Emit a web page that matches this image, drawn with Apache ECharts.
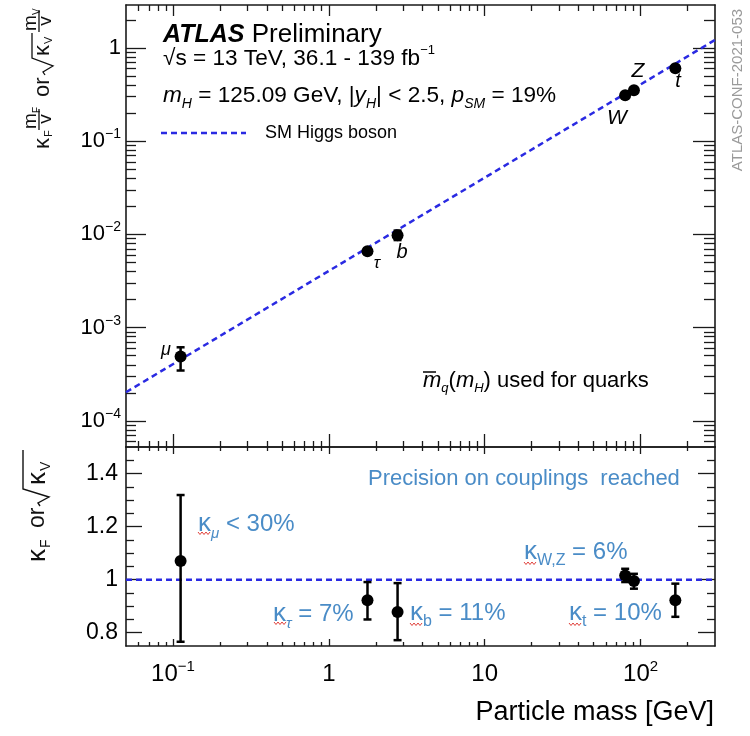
<!DOCTYPE html>
<html>
<head>
<meta charset="utf-8">
<title>ATLAS Higgs couplings vs particle mass</title>
<script src="https://cdn.jsdelivr.net/npm/echarts@6/dist/echarts.min.js"></script>
<style>
  html, body { margin: 0; padding: 0; background: #fff; }
  #chart { width: 750px; height: 736px; }
</style>
</head>
<body>
<div id="chart"></div>
<script>
// ---- data ----
const particles   = ['μ', 'τ', 'b', 'W', 'Z', 't'];
const massGeV     = [0.112, 1.77, 2.76, 79.6, 90.6, 167];
// upper panel: kappa_F m_F / v  or  sqrt(kappa_V) m_V / v
const reduced     = [4.9e-4, 6.6e-3, 9.8e-3, 0.312, 0.353, 0.605];
const reducedLow  = [3.47e-4, 6.2e-3, 8.7e-3, 0.305, 0.345, 0.575];
const reducedHigh = [6.16e-4, 7.1e-3, 1.1e-2, 0.32, 0.362, 0.64];
// lower panel: kappa_F or sqrt(kappa_V)
const kappa       = [1.07, 0.922, 0.878, 1.016, 0.995, 0.922];
const kappaLow    = [0.766, 0.85, 0.772, 0.991, 0.966, 0.86];
const kappaHigh   = [1.319, 0.991, 0.987, 1.041, 1.022, 0.985];
// SM Higgs boson expectation (end points of the dashed lines)
const smMass      = [0.05, 300];
const smReduced   = [2.03e-4, 1.22];
const smKappa     = [1, 1];
// axis ticks
const xMajor      = [0.1, 1, 10, 100];
const xMajorText  = ['{b|10}{s|−1}', '{b|1}', '{b|10}', '{b|10}{s|2}'];
const yTopMajor   = [1e-4, 1e-3, 1e-2, 1e-1, 1];
const yTopText    = ['{b|10}{s|−4}', '{b|10}{s|−3}', '{b|10}{s|−2}', '{b|10}{s|−1}', '{b|1}'];
const yBotMajor   = [0.8, 1, 1.2, 1.4];
const yBotText    = ['0.8', '1', '1.2', '1.4'];
const yBotMinor   = [0.85, 0.9, 0.95, 1.05, 1.1, 1.15, 1.25, 1.3, 1.35, 1.45];

const FONT = '"Liberation Sans", Arial, Helvetica, sans-serif';
const SM_BLUE = '#2a2ae2';
const NOTE_BLUE = '#4a8cc7';
const lg = v => Math.log10(v);

const X_MIN = lg(0.05), X_MAX = lg(300);
const YT_MIN = -4.28, YT_MAX = 0.461;
const YB_MIN = 0.75, YB_MAX = 1.5;

// minor log ticks 2..9 x 10^k inside a range
function logMinors(lo, hi) {
  const out = [];
  for (let k = -6; k <= 3; k++) {
    for (let m = 2; m <= 9; m++) {
      const v = m * Math.pow(10, k);
      if (v > lo && v < hi) out.push(lg(v));
    }
  }
  return out;
}
const xMinorLog = logMinors(0.05, 300);
const yTopMinorLog = logMinors(Math.pow(10, YT_MIN), Math.pow(10, YT_MAX));

function pick(values, texts) {
  return function (v) {
    let best = 0;
    values.forEach((c, i) => { if (Math.abs(c - v) < Math.abs(values[best] - v)) best = i; });
    return texts[best];
  };
}

const richLabel = (size) => ({
  b: { fontSize: size, lineHeight: size + 6, fontFamily: FONT, color: '#000' },
  s: { fontSize: Math.round(size * 0.62), lineHeight: Math.round(size * 0.62), fontFamily: FONT, color: '#000', verticalAlign: 'top' }
});

function axis(gridIndex, position, min, max, ticks, tickLen, showLine, label) {
  return {
    type: 'value', gridIndex: gridIndex, position: position, min: min, max: max,
    axisLine: { show: showLine, onZero: false, lineStyle: { color: '#1a1a1a', width: 1.6 } },
    axisTick: { show: true, inside: true, length: tickLen, customValues: ticks,
                lineStyle: { color: '#1a1a1a', width: 1.3 } },
    axisLabel: label || { show: false },
    splitLine: { show: false },
    axisPointer: { show: false }
  };
}

const xMajorLog = xMajor.map(lg);
const yTopMajorLog = yTopMajor.map(lg);

const xLabel = {
  show: true, customValues: xMajorLog, margin: 13,
  formatter: pick(xMajorLog, xMajorText), rich: richLabel(24)
};
const yTopLabel = {
  show: true, customValues: yTopMajorLog, margin: 5,
  formatter: pick(yTopMajorLog, yTopText), rich: richLabel(22)
};
const yBotLabel = {
  show: true, customValues: yBotMajor, margin: 8,
  formatter: pick(yBotMajor, yBotText), fontSize: 23, fontFamily: FONT, color: '#000'
};

const xAxes = [
  axis(0, 'bottom', X_MIN, X_MAX, xMajorLog, 13, true),
  axis(0, 'bottom', X_MIN, X_MAX, xMinorLog, 6, false),
  axis(0, 'top', X_MIN, X_MAX, xMajorLog, 11, true),
  axis(0, 'top', X_MIN, X_MAX, xMinorLog, 6, false),
  axis(1, 'bottom', X_MIN, X_MAX, xMajorLog, 7, true, xLabel),
  axis(1, 'bottom', X_MIN, X_MAX, xMinorLog, 4, false),
  axis(1, 'top', X_MIN, X_MAX, xMajorLog, 7, true),
  axis(1, 'top', X_MIN, X_MAX, xMinorLog, 4, false)
];
const yAxes = [
  axis(0, 'left', YT_MIN, YT_MAX, yTopMajorLog, 20, true, yTopLabel),
  axis(0, 'left', YT_MIN, YT_MAX, yTopMinorLog, 10, false),
  axis(0, 'right', YT_MIN, YT_MAX, yTopMajorLog, 22, true),
  axis(0, 'right', YT_MIN, YT_MAX, yTopMinorLog, 11, false),
  axis(1, 'left', YB_MIN, YB_MAX, yBotMajor, 16, true, yBotLabel),
  axis(1, 'left', YB_MIN, YB_MAX, yBotMinor, 8, false),
  axis(1, 'right', YB_MIN, YB_MAX, yBotMajor, 17, true),
  axis(1, 'right', YB_MIN, YB_MAX, yBotMinor, 8, false)
];

function errorBar(params, api) {
  const lo = api.coord([api.value(0), api.value(1)]);
  const hi = api.coord([api.value(0), api.value(2)]);
  const cap = 4;
  const style = { stroke: '#000', lineWidth: 2.5 };
  return {
    type: 'group',
    children: [
      { type: 'line', shape: { x1: lo[0], y1: lo[1], x2: hi[0], y2: hi[1] }, style: style },
      { type: 'line', shape: { x1: lo[0] - cap, y1: lo[1], x2: lo[0] + cap, y2: lo[1] }, style: style },
      { type: 'line', shape: { x1: hi[0] - cap, y1: hi[1], x2: hi[0] + cap, y2: hi[1] }, style: style }
    ]
  };
}

const topPoints = massGeV.map((m, i) => [lg(m), lg(reduced[i])]);
const topErrors = massGeV.map((m, i) => [lg(m), lg(reducedLow[i]), lg(reducedHigh[i])]);
const botPoints = massGeV.map((m, i) => [lg(m), kappa[i]]);
const botErrors = massGeV.map((m, i) => [lg(m), kappaLow[i], kappaHigh[i]]);

// ---- texts (graphic rich text uses fill for colour) ----
const sub = (size) => ({ fontSize: size, lineHeight: size, fontFamily: FONT, fill: '#000', verticalAlign: 'bottom' });
function label(x, y, text, rich, extra) {
  return {
    type: 'text', x: x, y: y, silent: true,
    style: Object.assign({ text: text, rich: rich, fontFamily: FONT, fill: '#000',
                           align: 'left', verticalAlign: 'middle' }, extra || {})
  };
}
function italic(x, y, t, size) {
  return { type: 'text', x: x, y: y, silent: true,
           style: { text: t, fontFamily: FONT, fontStyle: 'italic', fontSize: size, fill: '#000',
                    align: 'center', verticalAlign: 'middle' } };
}
function squiggle(x0, y0) {
  const pts = [];
  for (let i = 0; i <= 6; i++) pts.push([x0 + i * 2, y0 + (i % 2 ? 2.5 : 0)]);
  return { type: 'polyline', silent: true, shape: { points: pts }, style: { stroke: '#e0403a', lineWidth: 1, fill: null } };
}

const n22 = { fontSize: 22.6, lineHeight: 30, fontFamily: FONT, fill: '#000' };
const i22 = { fontSize: 22.6, lineHeight: 30, fontFamily: FONT, fontStyle: 'italic', fill: '#000' };
const blue = (size) => ({ fontSize: size, lineHeight: size + 8, fontFamily: FONT, fill: NOTE_BLUE });
const blueSub = (size, it) => ({ fontSize: size, lineHeight: size, fontFamily: FONT, fill: NOTE_BLUE,
                                 fontStyle: it ? 'italic' : 'normal', verticalAlign: 'bottom' });

const texts = [
  label(163, 35, '{a|ATLAS}{p| Preliminary}', {
    a: { fontSize: 25, fontWeight: 'bold', fontStyle: 'italic', fontFamily: FONT, fill: '#000' },
    p: { fontSize: 26, fontFamily: FONT, fill: '#000' }
  }),
  label(163, 59, '{n|√s = 13 TeV, 36.1 - 139 fb}{s|−1}', {
    n: n22, s: { fontSize: 13, lineHeight: 13, fontFamily: FONT, fill: '#000', verticalAlign: 'top' }
  }),
  label(163, 96, '{i|m}{u|H}{n| = 125.09 GeV, |}{i|y}{u|H}{n|| < 2.5, }{i|p}{u|SM}{n| = 19%}', {
    n: n22, i: i22, u: Object.assign(sub(14), { fontStyle: 'italic' })
  }),
  label(265, 133, 'SM Higgs boson', null, { fontSize: 18 }),
  { type: 'line', silent: true, shape: { x1: 161, y1: 133, x2: 246, y2: 133 },
    style: { stroke: SM_BLUE, lineWidth: 2.5, lineDash: [6, 4] } },
  { type: 'text', x: 738, y: 90, rotation: Math.PI / 2, silent: true,
    style: { text: 'ATLAS-CONF-2021-053', fontFamily: FONT, fontSize: 15, fill: '#9a9a9a',
             align: 'center', verticalAlign: 'middle' } },
  label(423, 381, '{i|m}{u|q}{n|(}{i|m}{u|H}{n|) used for quarks}', {
    n: { fontSize: 22, lineHeight: 28, fontFamily: FONT, fill: '#000' },
    i: { fontSize: 22, lineHeight: 28, fontFamily: FONT, fontStyle: 'italic', fill: '#000' },
    u: Object.assign(sub(13), { fontStyle: 'italic' })
  }),
  { type: 'line', silent: true, shape: { x1: 423, y1: 372, x2: 436, y2: 372 }, style: { stroke: '#000', lineWidth: 1.5 } },
  italic(166, 350, 'μ', 18),
  italic(377, 263, 'τ', 17),
  italic(402, 252, 'b', 20),
  italic(617, 118, 'W', 21),
  italic(638, 71, 'Z', 21),
  italic(678, 81, 't', 20),
  label(368, 479, 'Precision on couplings  reached', null, { fontSize: 22, fill: NOTE_BLUE }),
  label(198, 524, '{k|κ}{u|μ}{n| < 30%}', { k: blue(26), u: blueSub(15, true), n: blue(24) }),
  label(273, 614, '{k|κ}{u|τ}{n| = 7%}', { k: blue(26), u: blueSub(15, true), n: blue(24) }),
  label(410, 613, '{k|κ}{u|b}{n| = 11%}', { k: blue(26), u: blueSub(16), n: blue(24) }),
  label(569, 613, '{k|κ}{u|t}{n| = 10%}', { k: blue(26), u: blueSub(16), n: blue(24) }),
  label(524, 552, '{k|κ}{u|W,Z}{n| = 6%}', { k: blue(26), u: blueSub(16), n: blue(24) }),
  squiggle(198, 532), squiggle(274, 622), squiggle(410, 623), squiggle(569, 623), squiggle(524, 562)
];

// rotated y-axis titles (local x runs along the reading direction, bottom to top)
function gtxt(x, y, t, size, align) {
  return { type: 'text', x: x, y: y,
           style: { text: t, fontFamily: FONT, fontSize: size, fill: '#111', align: align || 'left', verticalAlign: 'middle' } };
}
function gline(x1, y1, x2, y2) {
  return { type: 'line', shape: { x1: x1, y1: y1, x2: x2, y2: y2 }, style: { stroke: '#111', lineWidth: 1.3 } };
}
const topTitle = {
  type: 'group', x: 43, y: 149, rotation: Math.PI / 2, silent: true,
  children: [
    gtxt(0, 0, 'κ', 22), gtxt(12, 6, 'F', 11),
    gtxt(20, -12, 'm', 19), gtxt(36, -6, 'F', 10), gline(19, -4, 40, -4), gtxt(30, 3, 'v', 19, 'center'),
    gtxt(52, 0, 'or', 22),
    { type: 'polyline', shape: { points: [[74, 2], [77, 0], [83, 10], [91, -11], [116, -11]] },
      style: { stroke: '#111', lineWidth: 1.3, fill: null } },
    gtxt(93, 0, 'κ', 22), gtxt(105, 6, 'V', 11),
    gtxt(118, -12, 'm', 19), gtxt(134, -6, 'V', 10), gline(117, -4, 139, -4), gtxt(128, 3, 'v', 19, 'center')
  ]
};
const botTitle = {
  type: 'group', x: 38, y: 562, rotation: Math.PI / 2, silent: true,
  children: [
    gtxt(0, 0, 'κ', 26), gtxt(14, 8, 'F', 14),
    gtxt(34, 0, 'or', 23),
    { type: 'polyline', shape: { points: [[56, 2], [59, 0], [65, 11], [73, -15], [112, -15]] },
      style: { stroke: '#111', lineWidth: 1.4, fill: null } },
    gtxt(77, 0, 'κ', 26), gtxt(91, 8, 'V', 14)
  ]
};

const chart = echarts.init(document.getElementById('chart'), null, { renderer: 'canvas' });
chart.setOption({
  animation: false,
  backgroundColor: '#fff',
  grid: [
    { left: 126, top: 5, width: 589, height: 442 },
    { left: 126, top: 447, width: 589, height: 199 }
  ],
  xAxis: xAxes,
  yAxis: yAxes,
  graphic: texts.concat([topTitle, botTitle,
    { type: 'text', right: 36, top: 699, silent: true,
      style: { text: 'Particle mass [GeV]', fontFamily: FONT, fontSize: 27, fill: '#000' } }]),
  series: [
    { type: 'line', xAxisIndex: 0, yAxisIndex: 0, z: 2, silent: true, symbol: 'none',
      data: smMass.map((m, i) => [lg(m), lg(smReduced[i])]),
      lineStyle: { color: SM_BLUE, width: 2.5, type: [6, 4] } },
    { type: 'custom', xAxisIndex: 0, yAxisIndex: 0, z: 3, silent: true, renderItem: errorBar, data: topErrors },
    { type: 'scatter', xAxisIndex: 0, yAxisIndex: 0, z: 4, silent: true, symbolSize: 12,
      itemStyle: { color: '#000', opacity: 1 }, data: topPoints },
    { type: 'line', xAxisIndex: 4, yAxisIndex: 4, z: 2, silent: true, symbol: 'none',
      data: smMass.map((m, i) => [lg(m), smKappa[i]]),
      lineStyle: { color: SM_BLUE, width: 2.5, type: [6, 4] } },
    { type: 'custom', xAxisIndex: 4, yAxisIndex: 4, z: 3, silent: true, renderItem: errorBar, data: botErrors },
    { type: 'scatter', xAxisIndex: 4, yAxisIndex: 4, z: 4, silent: true, symbolSize: 12,
      itemStyle: { color: '#000', opacity: 1 }, data: botPoints }
  ]
});
</script>
</body>
</html>
